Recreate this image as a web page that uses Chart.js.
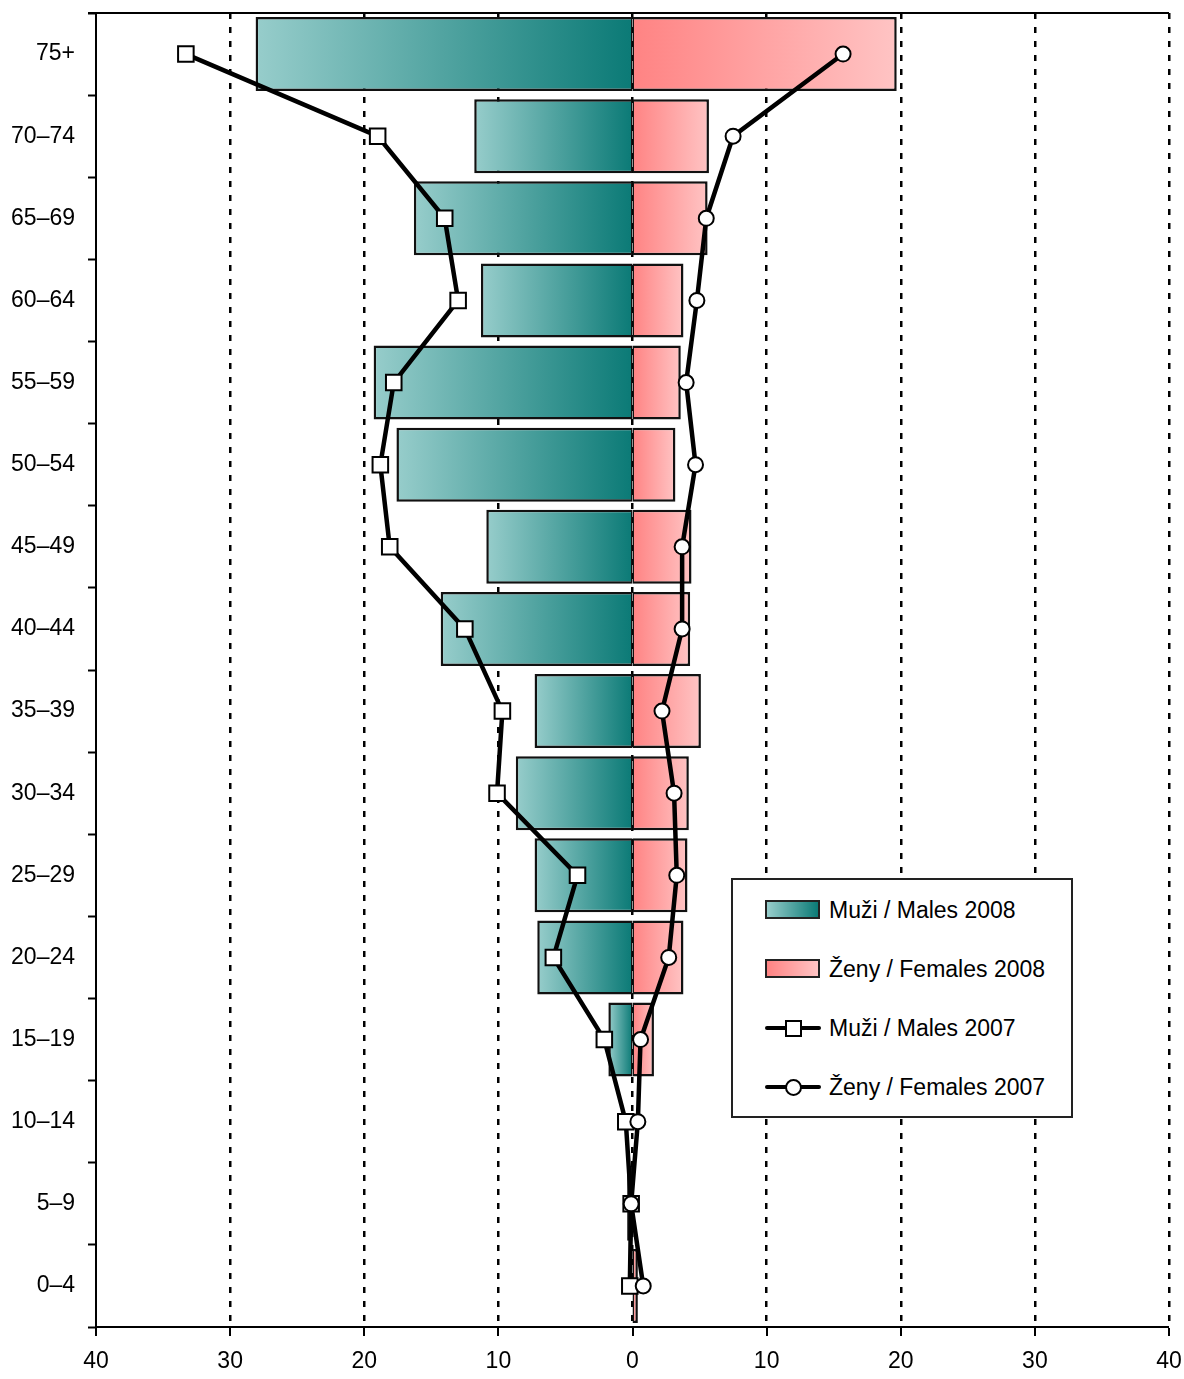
<!DOCTYPE html>
<html lang="cs">
<head>
  <title>Muži / Ženy 2007–2008</title>
  <meta charset="UTF-8" />
  <script src="https://cdn.jsdelivr.net/npm/chart.js"></script>
  <style>
    body { margin: 0; background: #fff; }
    .wrap { position: relative; width: 1184px; height: 1379px; }
    .legend {
      position: absolute; left: 731px; top: 878px; width: 338px; height: 236px;
      border: 2px solid #222; background: #fff;
      font-family: "Liberation Sans", Arial, sans-serif; font-size: 23px; color: #000;
    }
    .item { position: absolute; left: 32px; height: 30px; width: 300px; }
    .item span { position: absolute; left: 64px; top: 50%; transform: translateY(-50%); white-space: nowrap; }
    .box { position: absolute; left: 0; top: 5px; width: 51px; height: 15px; border: 2.5px solid #222; }
    .line { position: absolute; left: 0; top: 13px; width: 56px; height: 4px; background: #000; border-radius: 2px; }
    .mk { position: absolute; left: 20px; top: 7px; width: 13px; height: 13px; border: 2px solid #000; background: #fff; }
    .mk.circle { border-radius: 50%; }
  </style>
</head>
<body>
  <div class="wrap">
    <canvas id="myChart"></canvas>
    <div class="legend">
      <div class="item" style="top: 15px;"><div class="box" style="background: linear-gradient(to right, #97cdcb, #0b7a76);"></div><span>Muži / Males 2008</span></div>
      <div class="item" style="top: 74px;"><div class="box" style="background: linear-gradient(to right, #ff8383, #ffc4c4);"></div><span>Ženy / Females 2008</span></div>
      <div class="item" style="top: 133px;"><div class="line"></div><div class="mk"></div><span>Muži / Males 2007</span></div>
      <div class="item" style="top: 192px;"><div class="line"></div><div class="mk circle"></div><span>Ženy / Females 2007</span></div>
    </div>
  </div>

  <script>
    // age groups, top to bottom
    const ageGroups = ['75+', '70–74', '65–69', '60–64', '55–59', '50–54', '45–49', '40–44',
                       '35–39', '30–34', '25–29', '20–24', '15–19', '10–14', '5–9', '0–4'];
    const males2008   = [28.1, 11.8, 16.3, 11.3, 19.3, 17.6, 10.9, 14.3, 7.3, 8.7, 7.3, 7.1, 1.8, 0, 0.4, 0];
    const females2008 = [19.7, 5.7, 5.6, 3.8, 3.6, 3.2, 4.4, 4.3, 5.1, 4.2, 4.1, 3.8, 1.6, 0, 0, 0.4];
    const males2007   = [33.3, 19.0, 14.0, 13.0, 17.8, 18.8, 18.1, 12.5, 9.7, 10.1, 4.1, 5.9, 2.1, 0.5, 0.1, 0.2];
    const females2007 = [15.7, 7.5, 5.5, 4.8, 4.0, 4.7, 3.7, 3.7, 2.2, 3.1, 3.3, 2.7, 0.6, 0.4, -0.1, 0.8];
    const xTicks = [-40, -30, -20, -10, 0, 10, 20, 30, 40];

    const tickFont = { family: '"Liberation Sans", Arial, sans-serif', size: 23 };

    // each bar gets its own gradient, from the zero line outwards
    function barGradient(inner, outer) {
      return function(c) {
        const chart = c.chart;
        const x = chart.scales.x;
        if (c.type !== 'data' || !x || !chart.chartArea) return inner;
        const x0 = x.getPixelForValue(0);
        const x1 = x.getPixelForValue(c.raw);
        if (Math.abs(x1 - x0) < 1) return inner;
        const g = chart.ctx.createLinearGradient(x0, 0, x1, 0);
        g.addColorStop(0, inner);
        g.addColorStop(1, outer);
        return g;
      };
    }

    const topBorder = {
      id: 'topBorder',
      afterDraw(chart) {
        const { ctx, chartArea } = chart;
        ctx.save();
        ctx.strokeStyle = '#000';
        ctx.lineWidth = 2;
        ctx.beginPath();
        ctx.moveTo(chartArea.left - 8, chartArea.top);
        ctx.lineTo(chartArea.right, chartArea.top);
        ctx.stroke();
        ctx.restore();
      }
    };

    const ctx = document.getElementById('myChart').getContext('2d');
    new Chart(ctx, {
      type: 'bar',
      data: {
        labels: ageGroups,
        datasets: [
          {
            type: 'line', label: 'Ženy / Females 2007', indexAxis: 'y', order: 0,
            data: females2007,
            borderColor: '#000', borderWidth: 4.5, tension: 0,
            pointStyle: 'circle', pointRadius: 7.5, pointBorderWidth: 2,
            pointBackgroundColor: '#fff', pointBorderColor: '#000', clip: false
          },
          {
            type: 'line', label: 'Muži / Males 2007', indexAxis: 'y', order: 1,
            data: males2007.map(v => -v),
            borderColor: '#000', borderWidth: 4.5, tension: 0,
            pointStyle: 'rect', pointRadius: 11, pointBorderWidth: 2,
            pointBackgroundColor: '#fff', pointBorderColor: '#000', clip: false
          },
          {
            label: 'Muži / Males 2008', indexAxis: 'y', order: 2,
            data: males2008.map(v => -v),
            backgroundColor: barGradient('#0b7a76', '#97cdcb'),
            borderColor: '#111', borderWidth: { top: 2.5, bottom: 2.5, left: 2.5, right: 1.5 },
            borderSkipped: false,
            barPercentage: 0.9, categoryPercentage: 1, grouped: false
          },
          {
            label: 'Ženy / Females 2008', indexAxis: 'y', order: 2,
            data: females2008,
            backgroundColor: barGradient('#ff8383', '#ffc4c4'),
            borderColor: '#111', borderWidth: { top: 2.5, bottom: 2.5, left: 1.5, right: 2.5 },
            borderSkipped: false,
            barPercentage: 0.9, categoryPercentage: 1, grouped: false
          }
        ]
      },
      options: {
        indexAxis: 'y',
        responsive: true,
        maintainAspectRatio: false,
        animation: false,
        layout: { padding: { top: 12, right: 15, left: 0, bottom: 0 } },
        plugins: { legend: { display: false }, tooltip: { enabled: false } },
        scales: {
          // axis with tick marks and labels; no grid, so bars start exactly at 0
          x: {
            type: 'linear', min: -40, max: 40,
            afterBuildTicks: s => { s.ticks = xTicks.map(v => ({ value: v })); },
            afterFit: s => { s.height = 52; s.paddingLeft = 0; s.paddingRight = 0; },
            ticks: { color: '#000', font: tickFont, padding: 12, maxRotation: 0,
                     callback: v => Math.abs(v) },
            grid: { drawOnChartArea: false, lineWidth: 0, tickLength: 9, tickWidth: 2, tickColor: '#000' },
            border: { display: true, color: '#000', width: 2 }
          },
          // dotted vertical grid lines
          xGrid: {
            type: 'linear', axis: 'x', position: 'bottom', min: -40, max: 40,
            afterBuildTicks: s => { s.ticks = xTicks.map(v => ({ value: v })); },
            afterFit: s => { s.height = 0; s.paddingLeft = 0; s.paddingRight = 0; },
            ticks: { display: false },
            grid: {
              drawTicks: false, lineWidth: 2.5,
              color: c => (c.tick && c.tick.value === -40) ? 'rgba(0,0,0,0)' : '#000'
            },
            border: { display: false, dash: [6, 8] }
          },
          y: {
            type: 'category', offset: true,
            afterFit: s => { s.width = 96; s.paddingTop = 0; s.paddingBottom = 0; },
            ticks: { color: '#000', font: tickFont, padding: 13 },
            grid: { offset: true, drawOnChartArea: false, tickLength: 8, tickWidth: 2, tickColor: '#000', color: '#000' },
            border: { display: true, color: '#000', width: 2 }
          }
        }
      },
      plugins: [topBorder]
    });
  </script>
</body>
</html>
